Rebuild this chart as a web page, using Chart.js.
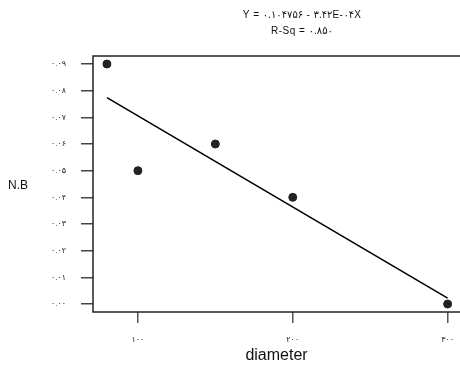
<!DOCTYPE html>
<html>
<head>
<meta charset="utf-8">
<script src="https://cdn.jsdelivr.net/npm/chart.js@4"></script>
<style>
  html, body { margin: 0; padding: 0; background: #fff; }
  #wrap { width: 460px; height: 365px; }
</style>
</head>
<body>
<div id="wrap"><canvas id="c" width="460" height="365"></canvas></div>
<script>
// data
const diameter = [80, 100, 150, 200, 300];
const nb       = [0.09, 0.05, 0.06, 0.04, 0.00];
// fitted line end points
const fitX = [80, 300];
const fitY = [0.0774, 0.0022];
const xTicks = [100, 200, 300];
const yTicks = [0, 0.01, 0.02, 0.03, 0.04, 0.05, 0.06, 0.07, 0.08, 0.09];
const titleLines = ['Y = ۰.۱۰۴۷۵۶ - ۳.۴۲E-۰۴X', 'R-Sq = ۰.۸۵۰'];

const FONT = '"Liberation Sans", Arial, "DejaVu Sans", sans-serif';
const fa = s => String(s).replace(/[0-9]/g, d => '۰۱۲۳۴۵۶۷۸۹'[d]);

const extras = {
  id: 'extras',
  afterDraw(chart) {
    const { ctx, chartArea: a } = chart;
    ctx.save();
    // plot box
    ctx.strokeStyle = '#222';
    ctx.lineWidth = 1.5;
    ctx.strokeRect(a.left, a.top, a.right - a.left + 4, a.bottom - a.top);
    // equation
    ctx.fillStyle = '#111';
    ctx.font = '10px ' + FONT;
    ctx.letterSpacing = '0.5px';
    ctx.textAlign = 'center';
    ctx.textBaseline = 'middle';
    ctx.fillText(titleLines[0], 302, 15);
    ctx.fillText(titleLines[1], 302, 31);
    // y title
    ctx.letterSpacing = '0px';
    ctx.font = '12px ' + FONT;
    ctx.textAlign = 'left';
    ctx.fillText('N.B', 8, 186);
    ctx.restore();
  }
};

new Chart(document.getElementById('c'), {
  type: 'scatter',
  data: {
    datasets: [
      {
        data: diameter.map((x, i) => ({ x, y: nb[i] })),
        backgroundColor: '#222',
        borderColor: '#222',
        pointRadius: 4
      },
      {
        type: 'line',
        data: fitX.map((x, i) => ({ x, y: fitY[i] })),
        borderColor: '#000',
        borderWidth: 1.6,
        pointRadius: 0,
        fill: false
      }
    ]
  },
  options: {
    responsive: false,
    animation: false,
    layout: { autoPadding: false, padding: { top: 56, right: 0, left: 0, bottom: 0 } },
    plugins: { legend: { display: false }, tooltip: { enabled: false }, title: { display: false } },
    scales: {
      x: {
        type: 'linear',
        min: 71, max: 308,
        afterBuildTicks: s => { s.ticks = xTicks.map(v => ({ value: v })); },
        afterFit: s => { s.height = 53; s.paddingRight = 0; s.paddingLeft = 0; },
        grid: { drawOnChartArea: false, tickLength: 11, color: '#555', lineWidth: 1.5 },
        border: { display: false },
        ticks: { padding: 12, color: '#222', font: { size: 8, family: FONT }, callback: v => fa(v) },
        title: { display: true, text: 'diameter', color: '#111', font: { size: 16, family: FONT }, padding: { top: 0, bottom: 0 } }
      },
      y: {
        min: -0.003, max: 0.093,
        afterBuildTicks: s => { s.ticks = yTicks.map(v => ({ value: v })); },
        afterFit: s => { s.width = 93; s.paddingTop = 0; s.paddingBottom = 0; },
        grid: { drawOnChartArea: false, tickLength: 12, color: '#444', lineWidth: 1.5 },
        border: { display: false },
        ticks: { padding: 15, color: '#222', font: { size: 8, family: FONT }, callback: v => fa(v.toFixed(2)) }
      }
    }
  },
  plugins: [extras]
});
</script>
</body>
</html>
